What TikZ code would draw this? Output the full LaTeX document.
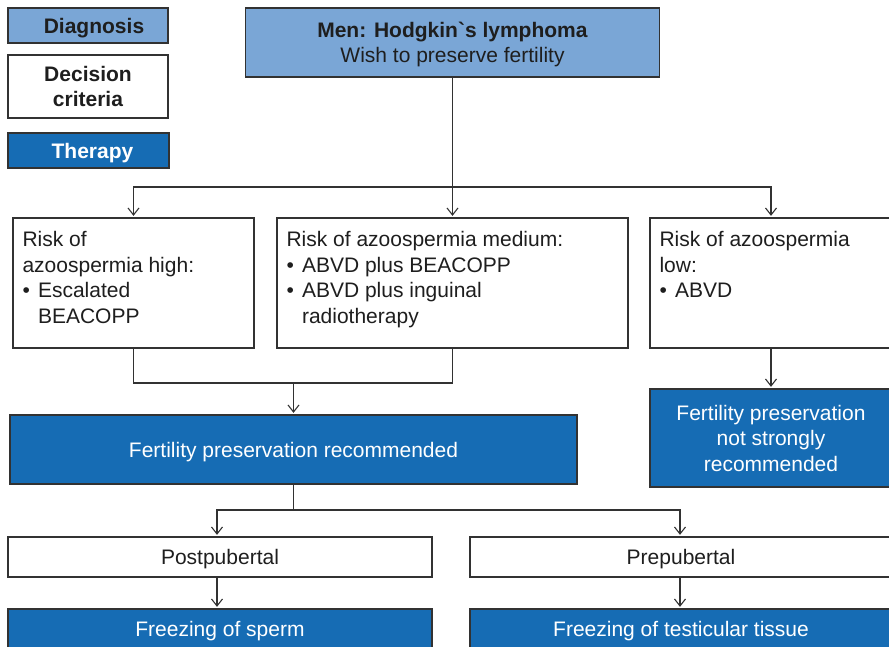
\documentclass[tikz,border=0pt]{standalone}
\usepackage{fontspec}
\setmainfont{Liberation Sans}
\usetikzlibrary{arrows.meta}
\definecolor{diagblue}{RGB}{122,166,214}
\definecolor{therblue}{RGB}{22,108,180}
\definecolor{edgegray}{RGB}{50,50,50}
\definecolor{txt}{RGB}{30,30,30}
\tikzset{
  box/.style={draw=edgegray, line width=1.3pt, rectangle, inner sep=0pt, text=txt, align=center, font=\fontsize{21}{25.5}\selectfont},
  diag/.style={box, fill=diagblue},
  crit/.style={box, fill=white},
  ther/.style={box, fill=therblue, text=white},
  oneline/.style={text height=15pt, text depth=0pt},
  boxtext/.style={anchor=north west, inner sep=0pt, align=left, text=txt, font=\fontsize{21}{25.5}\selectfont},
  conn/.style={draw=edgegray, line width=1.1pt},
  arr/.style={conn, -{Straight Barb[length=7pt,width=11pt,line width=1.1pt]}, shorten >=1.5pt},
}
\newcommand{\bul}{\makebox[15.5pt][l]{\textbullet}}
\begin{document}
\begin{tikzpicture}[x=1pt,y=-1pt]
\useasboundingbox (0,0) rectangle (889,646);
% legend
\node[diag, oneline, minimum width=160pt, minimum height=35pt] (leg1) at (88,25.5) {\hspace*{12pt}\textbf{Diagnosis}};
\node[crit, minimum width=160pt, minimum height=63pt] (leg2) at (88,86.5) {\textbf{Decision}\\\textbf{criteria}};
\node[ther, oneline, minimum width=161pt, minimum height=35pt] (leg3) at (88.5,150.5) {\hspace*{8pt}\textbf{Therapy}};
% top
\node[diag, minimum width=414pt, minimum height=69pt] (top) at (452.5,42.5) {};
\node[inner sep=0pt, align=center, text=txt, font=\fontsize{21}{25.5}\selectfont] (toptext) at ([yshift=-2pt]top.center) {\textbf{Men: Hodgkin\textasciigrave s lymphoma}\\Wish to preserve fertility};
% risk boxes
\node[crit, minimum width=241pt, minimum height=130pt] (r1) at (133.5,283) {};
\node[crit, minimum width=351pt, minimum height=130pt] (r2) at (452.5,283) {};
\node[crit, minimum width=242pt, minimum height=130pt] (r3) at (771,283) {};
\node[boxtext] (t1) at ([xshift=10pt,yshift=-14pt]r1.north west) {Risk of\\azoospermia high:\\\bul Escalated\\\hspace*{15.5pt}BEACOPP};
\node[boxtext] (t2) at ([xshift=10pt,yshift=-14pt]r2.north west) {Risk of azoospermia medium:\\\bul ABVD plus BEACOPP\\\bul ABVD plus inguinal\\\hspace*{15.5pt}radiotherapy};
\node[boxtext] (t3) at ([xshift=10pt,yshift=-14pt]r3.north west) {Risk of azoospermia\\low:\\\bul ABVD};
% recommendations
\node[ther, oneline, minimum width=567pt, minimum height=69pt] (rec) at (293.5,449.5) {Fertility preservation recommended};
\node[ther, minimum width=242pt, minimum height=98pt] (notrec) at (771,438) {Fertility preservation\\not strongly\\recommended};
% puberty
\node[crit, oneline, minimum width=424pt, minimum height=40pt] (post) at (220,557) {Postpubertal};
\node[crit, oneline, minimum width=422pt, minimum height=40pt] (pre) at (681,557) {Prepubertal};
\node[ther, oneline, minimum width=424pt, minimum height=40pt] (sperm) at (220,629) {Freezing of sperm};
\node[ther, oneline, minimum width=422pt, minimum height=40pt] (tissue) at (681,629) {Freezing of testicular tissue};
% connectors
\coordinate (j1) at (452.5,187);
\draw[conn] (top.south) -- (j1);
\draw[arr] (j1) -| (r1.north);
\draw[arr] (j1) -| (r3.north);
\draw[arr] (j1) -- (r2.north);
\coordinate (j2) at (293.5,383);
\draw[conn] (r1.south) |- (j2) -| (r2.south);
\draw[arr] (j2) -- (rec.north);
\draw[arr] (r3.south) -- (notrec.north);
\coordinate (j3) at (293.5,510);
\draw[conn] (rec.south) -- (j3);
\draw[arr] (j3) -| ([xshift=-3pt]post.north);
\draw[arr] (j3) -| ([xshift=-1pt]pre.north);
\draw[arr] ([xshift=-3pt]post.south) -- ([xshift=-3pt]sperm.north);
\draw[arr] ([xshift=-1pt]pre.south) -- ([xshift=-1pt]tissue.north);
\end{tikzpicture}
\end{document}
